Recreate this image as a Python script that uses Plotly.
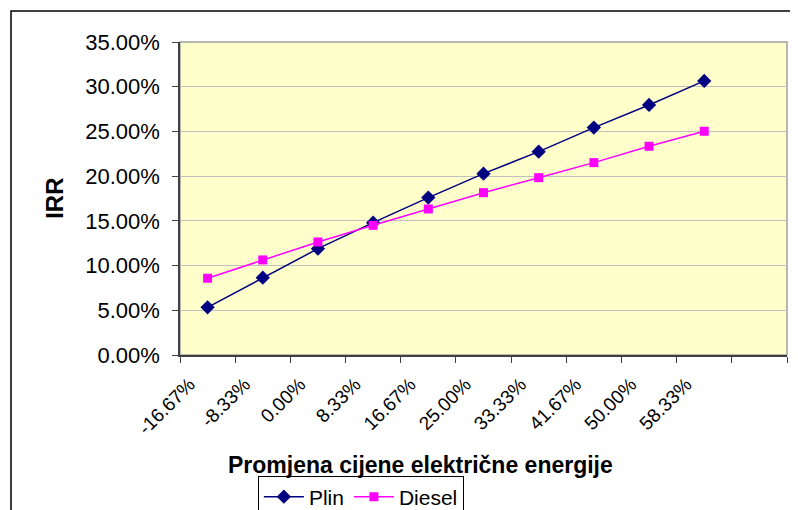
import plotly.graph_objects as go

# Category labels (last slot is empty, as in the original Excel chart)
price_change = ["-16.67%", "-8.33%", "0.00%", "8.33%", "16.67%",
                "25.00%", "33.33%", "41.67%", "50.00%", "58.33%"]
categories = price_change + [" "]

# IRR values
irr_plin = [0.0533, 0.0865, 0.1189, 0.1480, 0.1760,
            0.2028, 0.2274, 0.2543, 0.2796, 0.3065]
irr_diesel = [0.0858, 0.1063, 0.1264, 0.1450, 0.1633,
              0.1815, 0.1983, 0.2151, 0.2334, 0.2502]

FONT = "Arial, Liberation Sans, sans-serif"

fig = go.Figure()

fig.add_trace(go.Scatter(
    x=price_change, y=irr_plin, name="Plin",
    mode="lines+markers",
    line=dict(color="#000080", width=1.5),
    marker=dict(symbol="diamond", size=11, color="#000080"),
))
fig.add_trace(go.Scatter(
    x=price_change, y=irr_diesel, name="Diesel",
    mode="lines+markers",
    line=dict(color="#FF00FF", width=1.5),
    marker=dict(symbol="square", size=9, color="#FF00FF"),
))

# plot area border (light grey) and outer chart border (black)
fig.add_shape(type="rect", xref="paper", yref="paper", x0=0, y0=0, x1=1, y1=1,
              line=dict(color="#A0A0A0", width=1.5), layer="below")
fig.add_shape(type="rect", xref="paper", yref="paper",
              x0=-0.2784, y0=-0.6, x1=1.2, y1=1.099,
              line=dict(color="black", width=1.5))

fig.add_annotation(text="<b>IRR</b>", xref="paper", yref="paper",
                   x=-0.206, y=0.502, xanchor="center", yanchor="middle",
                   textangle=-90, showarrow=False,
                   font=dict(family=FONT, size=24, color="black"))
fig.add_annotation(text="<b>Promjena cijene električne energije</b>",
                   xref="paper", yref="paper", x=0.397, y=-0.351,
                   xanchor="center", yanchor="middle", showarrow=False,
                   font=dict(family=FONT, size=23, color="black"))

# page body has an 8px margin, so the figure is drawn 8px smaller and offset
fig.update_layout(
    width=790, height=502,
    margin=dict(l=172, r=11, t=34, b=155, autoexpand=False),
    paper_bgcolor="white",
    plot_bgcolor="#FFFFCC",
    font=dict(family=FONT, color="black"),
    showlegend=True,
    legend=dict(
        orientation="h", x=0.298, xanchor="center", y=-0.385, yanchor="top",
        bordercolor="black", borderwidth=1, bgcolor="white",
        font=dict(family=FONT, size=21),
        itemwidth=40,
    ),
)

fig.update_xaxes(
    type="category", categoryorder="array", categoryarray=categories,
    range=[-0.5, 10.5], tickson="boundaries",
    ticks="outside", ticklen=6, tickcolor="#404040",
    tickangle=-45, tickfont=dict(family=FONT, size=19),
    ticklabelstandoff=9, ticklabelshift=-18,
    showline=True, linecolor="#404040", linewidth=1.5,
    showgrid=False, zeroline=False, automargin=False,
)
fig.update_yaxes(
    range=[0, 0.35], dtick=0.05, tickformat=".2%",
    ticks="outside", ticklen=6, tickcolor="#404040",
    tickfont=dict(family=FONT, size=22), ticklabelstandoff=8,
    showline=True, linecolor="#404040", linewidth=1.5,
    showgrid=True, gridcolor="#C0C0C0", gridwidth=1,
    zeroline=False, automargin=False,
)

fig.write_html("out.html")
